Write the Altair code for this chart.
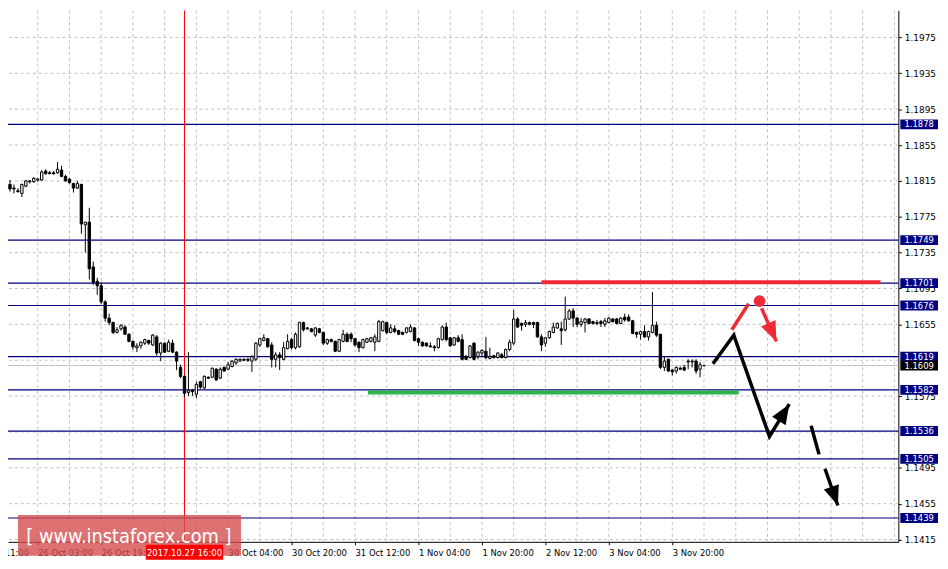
import math
import altair as alt
import pandas as pd

# ---------------- data (EUR/USD, H1) ----------------
opens = [
    1.1808, 1.1801, 1.1811, 1.1807, 1.1804, 1.1801, 1.1809, 1.1814, 1.1814, 1.1816,
    1.1816, 1.1826, 1.1824, 1.1824, 1.1824, 1.1827, 1.1820, 1.1817, 1.1812, 1.1807,
    1.1811, 1.1766, 1.1769, 1.1719, 1.1703, 1.1698, 1.1680, 1.1662, 1.1657, 1.1646,
    1.1650, 1.1652, 1.1644, 1.1636, 1.1629, 1.1631, 1.1634, 1.1637, 1.1632, 1.1641,
    1.1623, 1.1634, 1.1625, 1.1634, 1.1624, 1.1607, 1.1597, 1.1579, 1.1581, 1.1577,
    1.1591, 1.1584, 1.1596, 1.1596, 1.1605, 1.1595, 1.1607, 1.1605, 1.1608, 1.1612,
    1.1614, 1.1616, 1.1616, 1.1614, 1.1616, 1.1632, 1.1637, 1.1639, 1.1632, 1.1616,
    1.1621, 1.1616, 1.1628, 1.1638, 1.1629, 1.1630, 1.1657, 1.1651, 1.1650, 1.1643,
    1.1650, 1.1646, 1.1634, 1.1638, 1.1636, 1.1625, 1.1636, 1.1644, 1.1644, 1.1639,
    1.1635, 1.1629, 1.1635, 1.1636, 1.1635, 1.1636, 1.1648, 1.1657, 1.1646, 1.1650,
    1.1648, 1.1646, 1.1646, 1.1647, 1.1651, 1.1639, 1.1635, 1.1634, 1.1631, 1.1630,
    1.1629, 1.1638, 1.1652, 1.1640, 1.1632, 1.1640, 1.1638, 1.1619, 1.1618, 1.1634,
    1.1619, 1.1623, 1.1625, 1.1617, 1.1620, 1.1618, 1.1621, 1.1618, 1.1627, 1.1634,
    1.1661, 1.1656, 1.1655, 1.1657, 1.1657, 1.1657, 1.1641, 1.1634, 1.1640, 1.1646,
    1.1651, 1.1650, 1.1649, 1.1661, 1.1670, 1.1662, 1.1655, 1.1657, 1.1661, 1.1658,
    1.1657, 1.1658, 1.1655, 1.1657, 1.1661, 1.1661, 1.1656, 1.1663, 1.1663, 1.1659,
    1.1646, 1.1644, 1.1647, 1.1641, 1.1646, 1.1654, 1.1644, 1.1607, 1.1616, 1.1604,
    1.1603, 1.1606, 1.1607, 1.1613, 1.1613, 1.1614, 1.1605, 1.1609,
]
highs = [
    1.1811, 1.1812, 1.1816, 1.1811, 1.1807, 1.1812, 1.1816, 1.1816, 1.1819, 1.1818,
    1.1827, 1.1828, 1.1826, 1.1826, 1.1836, 1.1832, 1.1822, 1.1818, 1.1813, 1.1815,
    1.1812, 1.1769, 1.1785, 1.1725, 1.1707, 1.1702, 1.1682, 1.1667, 1.1658, 1.1652,
    1.1655, 1.1654, 1.1645, 1.1637, 1.1634, 1.1636, 1.1639, 1.1638, 1.1644, 1.1643,
    1.1635, 1.1635, 1.1638, 1.1638, 1.1625, 1.1610, 1.1598, 1.1624, 1.1583, 1.1591,
    1.1592, 1.1598, 1.1597, 1.1607, 1.1606, 1.1607, 1.1608, 1.1613, 1.1615, 1.1617,
    1.1617, 1.1617, 1.1618, 1.1621, 1.1635, 1.1640, 1.1644, 1.1640, 1.1635, 1.1624,
    1.1624, 1.1635, 1.1644, 1.1640, 1.1646, 1.1658, 1.1658, 1.1652, 1.1651, 1.1652,
    1.1651, 1.1647, 1.1639, 1.1639, 1.1637, 1.1639, 1.1649, 1.1646, 1.1646, 1.1640,
    1.1636, 1.1639, 1.1640, 1.1641, 1.1644, 1.1660, 1.1659, 1.1658, 1.1655, 1.1654,
    1.1649, 1.1647, 1.1652, 1.1655, 1.1652, 1.1640, 1.1636, 1.1635, 1.1635, 1.1632,
    1.1640, 1.1654, 1.1657, 1.1641, 1.1641, 1.1643, 1.1644, 1.1621, 1.1632, 1.1635,
    1.1625, 1.1627, 1.1641, 1.1629, 1.1621, 1.1624, 1.1623, 1.1628, 1.1638, 1.1671,
    1.1663, 1.1657, 1.1660, 1.1658, 1.1658, 1.1658, 1.1644, 1.1641, 1.1648, 1.1657,
    1.1657, 1.1658, 1.1686, 1.1672, 1.1673, 1.1663, 1.1662, 1.1662, 1.1662, 1.1659,
    1.1660, 1.1660, 1.1662, 1.1663, 1.1662, 1.1662, 1.1663, 1.1667, 1.1666, 1.1660,
    1.1647, 1.1648, 1.1654, 1.1648, 1.1691, 1.1658, 1.1644, 1.1619, 1.1617, 1.1605,
    1.1608, 1.1608, 1.1610, 1.1616, 1.1616, 1.1616, 1.1613, 1.1610,
]
lows = [
    1.1799, 1.1799, 1.1803, 1.1801, 1.1802, 1.1797, 1.1808, 1.1812, 1.1813, 1.1814,
    1.1815, 1.1822, 1.1823, 1.1822, 1.1823, 1.1819, 1.1814, 1.1812, 1.1802, 1.1806,
    1.1756, 1.1735, 1.1705, 1.1699, 1.1688, 1.1678, 1.1658, 1.1654, 1.1644, 1.1645,
    1.1648, 1.1643, 1.1635, 1.1627, 1.1624, 1.1628, 1.1632, 1.1632, 1.1631, 1.1620,
    1.1614, 1.1623, 1.1624, 1.1623, 1.1604, 1.1595, 1.1574, 1.1575, 1.1575, 1.1573,
    1.1583, 1.1583, 1.1594, 1.1595, 1.1592, 1.1594, 1.1602, 1.1604, 1.1607, 1.1610,
    1.1613, 1.1614, 1.1613, 1.1602, 1.1614, 1.1630, 1.1636, 1.1629, 1.1607, 1.1607,
    1.1604, 1.1615, 1.1627, 1.1627, 1.1627, 1.1629, 1.1647, 1.1649, 1.1646, 1.1641,
    1.1645, 1.1632, 1.1632, 1.1635, 1.1624, 1.1624, 1.1635, 1.1635, 1.1635, 1.1630,
    1.1624, 1.1628, 1.1634, 1.1635, 1.1625, 1.1635, 1.1647, 1.1644, 1.1645, 1.1645,
    1.1643, 1.1643, 1.1645, 1.1646, 1.1636, 1.1631, 1.1630, 1.1630, 1.1629, 1.1625,
    1.1628, 1.1637, 1.1636, 1.1630, 1.1631, 1.1635, 1.1615, 1.1615, 1.1617, 1.1615,
    1.1616, 1.1619, 1.1616, 1.1616, 1.1617, 1.1617, 1.1617, 1.1617, 1.1625, 1.1632,
    1.1651, 1.1648, 1.1652, 1.1654, 1.1651, 1.1640, 1.1625, 1.1630, 1.1639, 1.1645,
    1.1650, 1.1632, 1.1647, 1.1660, 1.1652, 1.1652, 1.1652, 1.1646, 1.1655, 1.1655,
    1.1654, 1.1652, 1.1652, 1.1656, 1.1657, 1.1655, 1.1655, 1.1658, 1.1658, 1.1644,
    1.1640, 1.1638, 1.1640, 1.1637, 1.1645, 1.1641, 1.1605, 1.1603, 1.1602, 1.1598,
    1.1600, 1.1604, 1.1603, 1.1605, 1.1607, 1.1600, 1.1596, 1.1608,
]
closes = [
    1.1801, 1.1812, 1.1806, 1.1806, 1.1803, 1.1811, 1.1815, 1.1815, 1.1818, 1.1817,
    1.1825, 1.1823, 1.1823, 1.1823, 1.1828, 1.1820, 1.1815, 1.1813, 1.1807, 1.1812,
    1.1767, 1.1769, 1.1717, 1.1702, 1.1698, 1.1680, 1.1662, 1.1657, 1.1646, 1.1649,
    1.1654, 1.1644, 1.1636, 1.1630, 1.1631, 1.1635, 1.1638, 1.1634, 1.1643, 1.1623,
    1.1634, 1.1624, 1.1635, 1.1624, 1.1614, 1.1597, 1.1578, 1.1581, 1.1580, 1.1588,
    1.1585, 1.1597, 1.1595, 1.1606, 1.1593, 1.1605, 1.1603, 1.1610, 1.1614, 1.1616,
    1.1616, 1.1615, 1.1615, 1.1619, 1.1634, 1.1639, 1.1640, 1.1630, 1.1616, 1.1621,
    1.1618, 1.1629, 1.1636, 1.1629, 1.1644, 1.1657, 1.1649, 1.1650, 1.1647, 1.1651,
    1.1646, 1.1634, 1.1638, 1.1636, 1.1625, 1.1638, 1.1644, 1.1636, 1.1639, 1.1632,
    1.1629, 1.1638, 1.1639, 1.1640, 1.1641, 1.1658, 1.1658, 1.1646, 1.1651, 1.1647,
    1.1644, 1.1644, 1.1651, 1.1652, 1.1637, 1.1635, 1.1631, 1.1631, 1.1630, 1.1629,
    1.1639, 1.1652, 1.1638, 1.1631, 1.1640, 1.1636, 1.1616, 1.1616, 1.1631, 1.1616,
    1.1624, 1.1626, 1.1618, 1.1619, 1.1618, 1.1623, 1.1618, 1.1627, 1.1635, 1.1661,
    1.1652, 1.1654, 1.1657, 1.1655, 1.1655, 1.1641, 1.1632, 1.1640, 1.1647, 1.1652,
    1.1656, 1.1648, 1.1661, 1.1670, 1.1662, 1.1655, 1.1658, 1.1661, 1.1656, 1.1656,
    1.1656, 1.1656, 1.1659, 1.1662, 1.1658, 1.1656, 1.1662, 1.1660, 1.1659, 1.1645,
    1.1644, 1.1647, 1.1641, 1.1647, 1.1654, 1.1643, 1.1607, 1.1614, 1.1603, 1.1602,
    1.1607, 1.1605, 1.1604, 1.1614, 1.1614, 1.1603, 1.1610, 1.1609,
]

levels = [1.1878, 1.1749, 1.1701, 1.1676, 1.1619, 1.1582, 1.1536, 1.1505, 1.1439]
bid_price = 1.1609
grid_prices = [1.1975, 1.1935, 1.1895, 1.1855, 1.1815, 1.1775, 1.1735, 1.1695,
               1.1655, 1.1615, 1.1575, 1.1535, 1.1495, 1.1455, 1.1415]
hidden_prices = [1.1615, 1.1535]  # grid rows whose labels sit fully under level tags
axis_prices = [p for p in grid_prices if p not in hidden_prices]
grid_bars = list(range(9, 226, 8))
time_bars = [9, 25, 57, 73, 89, 105, 121, 137, 153, 169]
time_labels = ["26 Oct 03:00", "26 Oct 19:00", "30 Oct 04:00",
               "30 Oct 20:00", "31 Oct 12:00", "1 Nov 04:00", "1 Nov 20:00",
               "2 Nov 12:00", "3 Nov 04:00", "3 Nov 20:00"]
cut_bar, cut_label = -7, "25 Oct 11:00"
marker_bar, marker_label = 46, "2017.10.27 16:00"

# support / resistance zones
zone_start = [136.0, 92.25]
zone_end = [221.5, 185.75]
zone_price = [1.1702, 1.1579]
zone_color = ["#ee2a35", "#2db34a"]

# forecast paths
path_seg = ["a", "a", "a", "a", "b", "b", "c", "c", "d", "d", "e", "e"]
path_bar = [179.25, 184.5, 193.5, 198.5, 204.0, 206.0, 207.5, 210.75, 184.0, 188.25, 191.5, 195.25]
path_price = [1.1611, 1.1643, 1.1530, 1.1566, 1.1542, 1.1510, 1.1494, 1.1453,
              1.1649, 1.1678, 1.1673, 1.1636]
seg_color = {"a": "black", "b": "black", "c": "black", "d": "#ee2a35", "e": "#ee2a35"}
head_segs = ["a", "c", "e"]
dot_bar, dot_price = 191.0, 1.1681

# ---------------- scales / geometry ----------------
W, H = 898, 536
XDOM = [1.5, 226.0]
YDOM = [1.1412458, 1.2005167]
XS = alt.Scale(domain=XDOM, nice=False, zero=False)
YS = alt.Scale(domain=YDOM, nice=False, zero=False)
px_per_bar = W / (XDOM[1] - XDOM[0])
px_per_price = H / (YDOM[1] - YDOM[0])
FONT = "DejaVu Sans"

label_expr = " : ".join(
    f"datum.value == {b} ? '{t}'" for b, t in zip(time_bars, time_labels)) + " : ''"

X_AXIS = alt.Axis(values=time_bars, labelExpr=label_expr, labelAlign="left",
                  labelBaseline="top", labelPadding=4, tickSize=3, tickColor="black",
                  domainColor="black", domainWidth=1, labelFont=FONT, labelFontSize=8.5,
                  labelColor="black", labelFlush=False, labelOverlap=False, grid=False,
                  title=None)
Y_AXIS = alt.Axis(orient="right", values=axis_prices, format=".4f", labelAlign="left",
                  labelBaseline="middle", labelPadding=3, tickSize=3, tickColor="black",
                  domainColor="black", domainWidth=1, labelFont=FONT, labelFontSize=9,
                  labelColor="black", labelFlush=False, labelOverlap=False, grid=False,
                  title=None)


def X(field):
    return alt.X(field, type="quantitative", scale=XS, axis=X_AXIS, title=None)


def Y(field):
    return alt.Y(field, type="quantitative", scale=YS, axis=Y_AXIS, title=None)


candles = pd.DataFrame({"i": list(range(len(opens))), "open": opens, "high": highs,
                        "low": lows, "close": closes})

vgrid = alt.Chart(pd.DataFrame({"i": grid_bars})).mark_rule(
    color="#c0c0c0", strokeDash=[3, 3], strokeWidth=1).encode(x=X("i"))
hgrid = alt.Chart(pd.DataFrame({"p": grid_prices})).mark_rule(
    color="#c0c0c0", strokeDash=[3, 3], strokeWidth=1).encode(y=Y("p"))
bid = alt.Chart(pd.DataFrame({"p": [bid_price]})).mark_rule(
    color="#c0c0c0", strokeWidth=1).encode(y=Y("p"))
lev = alt.Chart(pd.DataFrame({"p": levels})).mark_rule(
    color="#000080", strokeWidth=1.2).encode(y=Y("p"))
vmark = alt.Chart(pd.DataFrame({"i": [marker_bar]})).mark_rule(
    color="#ff0000", strokeWidth=1).encode(x=X("i"))

wicks = alt.Chart(candles).mark_rule(color="black", strokeWidth=1, clip=True).encode(
    x=X("i"), y=Y("low"), y2="high")
bodies = alt.Chart(candles).transform_calculate(
    xl="datum.i - 0.3", xr="datum.i + 0.3"
).mark_rect(stroke="black", strokeWidth=1, clip=True).encode(
    x=X("xl"), x2="xr", y=Y("open"), y2="close",
    fill=alt.condition("datum.close > datum.open", alt.value("white"), alt.value("black")))

zones = alt.Chart(pd.DataFrame({"s": zone_start, "e": zone_end, "p": zone_price,
                                "c": zone_color})).mark_rule(strokeWidth=4).encode(
    x=X("s"), x2="e", y=Y("p"), color=alt.Color("c:N", scale=None))

paths = pd.DataFrame({"seg": path_seg, "i": path_bar, "p": path_price,
                      "o": list(range(len(path_bar)))})
paths["c"] = paths["seg"].map(seg_color)
lines = alt.Chart(paths).mark_line(strokeWidth=3.5, strokeJoin="miter").encode(
    x=X("i"), y=Y("p"), detail="seg:N", order="o:Q", color=alt.Color("c:N", scale=None))

heads_rows = []
for s in head_segs:
    sub = paths[paths["seg"] == s]
    x0, x1 = sub["i"].iloc[-2], sub["i"].iloc[-1]
    y0, y1 = sub["p"].iloc[-2], sub["p"].iloc[-1]
    dx = (x1 - x0) * px_per_bar
    dy = -(y1 - y0) * px_per_price
    ang = math.degrees(math.atan2(dx, -dy)) % 360
    heads_rows.append({"i": x1, "p": y1, "ang": ang, "c": seg_color[s]})
heads = alt.Chart(pd.DataFrame(heads_rows)).mark_point(
    shape="M0,0 L0.7,1.75 L-0.7,1.75 Z", filled=True, size=520, opacity=1).encode(
    x=X("i"), y=Y("p"), angle=alt.Angle("ang:Q", scale=None),
    color=alt.Color("c:N", scale=None))

dot = alt.Chart(pd.DataFrame({"i": [dot_bar], "p": [dot_price]})).mark_point(
    shape="circle", filled=True, size=140, color="#ee2a35", opacity=1).encode(
    x=X("i"), y=Y("p"))

tags = pd.DataFrame({"p": levels + [bid_price],
                     "c": ["#000080"] * len(levels) + ["black"]})
tag_box = alt.Chart(tags).transform_calculate(
    t="datum.p + 0.00055", b="datum.p - 0.00055"
).mark_rect(clip=False).encode(
    x=alt.value(W + 2), x2=alt.value(W + 40), y=Y("t"), y2="b",
    fill=alt.Color("c:N", scale=None))
tag_txt = alt.Chart(tags).mark_text(
    color="white", font=FONT, fontSize=8.5, align="center", baseline="middle",
    clip=False).encode(x=alt.value(W + 21), y=Y("p"), text=alt.Text("p:Q", format=".4f"))

mk = pd.DataFrame({"i": [marker_bar], "t": [marker_label]})
mk_box = alt.Chart(mk).transform_calculate(
    l="datum.i - 9.75", r="datum.i + 9.75"
).mark_rect(color="#ff0000", clip=False).encode(
    x=X("l"), x2="r", y=alt.value(H + 3), y2=alt.value(H + 18))
mk_txt = alt.Chart(mk).mark_text(
    color="white", font=FONT, fontSize=8.5, align="center", baseline="middle",
    clip=False).encode(x=X("i"), y=alt.value(H + 11), text="t:N")

cut = alt.Chart(pd.DataFrame({"i": [cut_bar], "t": [cut_label]})).mark_text(
    color="black", font=FONT, fontSize=8.5, align="left", baseline="top",
    clip=False).encode(x=X("i"), y=alt.value(H + 7), text="t:N")

wm = pd.DataFrame({"t": ["[ www.instaforex.com ]"]})
wm_box = alt.Chart(wm).mark_rect(color="#d54a4c", opacity=0.78, clip=False).encode(
    x=alt.value(10), x2=alt.value(235), y=alt.value(509), y2=alt.value(550))
wm_txt = alt.Chart(wm).mark_text(
    color="white", font="Liberation Sans Narrow, DejaVu Sans Condensed, sans-serif",
    fontSize=20, align="center", baseline="middle", clip=False).encode(
    x=alt.value(122), y=alt.value(531), text="t:N")

chart = alt.layer(
    vgrid, hgrid, bid, lev, vmark, wicks, bodies, zones, lines, heads, dot,
    tag_box, tag_txt, cut, wm_box, wm_txt, mk_box, mk_txt
).properties(
    width=W, height=H, autosize="none",
    padding={"left": 0, "top": 0, "right": 42, "bottom": 25},
    background="white",
).configure_view(stroke=None)

chart.save("out.html", embed_options={"renderer": "svg", "actions": False})
